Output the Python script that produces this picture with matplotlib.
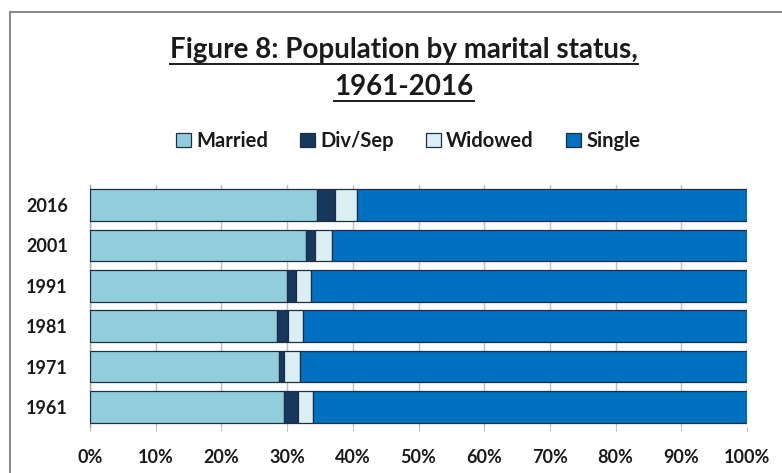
import matplotlib
matplotlib.use("Agg")
import matplotlib.pyplot as plt
from matplotlib.patches import Rectangle
from matplotlib.lines import Line2D
from matplotlib.ticker import PercentFormatter

years = ["1961", "1971", "1981", "1991", "2001", "2016"]
married = [29.5, 28.8, 28.4, 30.0, 32.9, 34.5]
divsep = [2.2, 0.7, 1.7, 1.4, 1.3, 2.8]
widowed = [2.3, 2.5, 2.3, 2.3, 2.7, 3.4]
single = [100 - m - d - w for m, d, w in zip(married, divsep, widowed)]

series = [("Married", married, "#92CDDC"),
          ("Div/Sep", divsep, "#17375E"),
          ("Widowed", widowed, "#DBEEF4"),
          ("Single", single, "#0070C0")]

plt.rcParams['font.family'] = ['Lato', 'DejaVu Sans']
plt.rcParams['font.weight'] = 'bold'

W, H = 782, 473
fig = plt.figure(figsize=(W / 100, H / 100), dpi=100)
ax = fig.add_axes([90 / W, 1 - 427 / H, (747 - 90) / W, (427 - 185) / H])

left = [0.0] * len(years)
handles = []
for name, vals, col in series:
    b = ax.barh(years, vals, left=left, height=0.78, color=col,
                edgecolor="#1B2F45", linewidth=0.9, label=name, zorder=3)
    handles.append(b)
    left = [l + v for l, v in zip(left, vals)]

ax.set_xlim(0, 100)
ax.set_ylim(-0.5, len(years) - 0.5)
ax.xaxis.set_major_locator(matplotlib.ticker.MultipleLocator(10))
ax.xaxis.set_major_formatter(PercentFormatter(decimals=0))
ax.grid(axis="x", color="#BFBFBF", linewidth=1.0, zorder=0)
for s in ["top", "right", "bottom"]:
    ax.spines[s].set_visible(False)
ax.spines["left"].set_color("#A6A6A6")
ax.spines["left"].set_linewidth(1.0)
ax.tick_params(axis="x", length=3, color="#BFBFBF", pad=13, labelsize=13)
ax.tick_params(axis="y", length=0, pad=16, labelsize=13)
for lab in ax.get_xticklabels() + ax.get_yticklabels():
    lab.set_fontweight("bold")
    lab.set_color("#1a1a1a")

leg = fig.legend(handles=handles, loc="center", bbox_to_anchor=(408 / W, 1 - 141 / H),
                 ncol=4, frameon=False, handlelength=0.75,
                 handleheight=0.75, handletextpad=0.25, columnspacing=1.6,
                 prop={'weight': 'bold', 'size': 14.5})
for t in leg.get_texts():
    t.set_color("#1a1a1a")

t1 = fig.text(404 / W, 1 - 50 / H, "Figure 8: Population by marital status,",
              ha="center", va="center", fontsize=20, fontweight="bold", color="#1a1a1a")
t2 = fig.text(404 / W, 1 - 87 / H, "1961-2016",
              ha="center", va="center", fontsize=20, fontweight="bold", color="#1a1a1a")

# frame around chart
fig.add_artist(Rectangle((10 / W, -0.1), 1.2, 1 - 12 / H + 0.1, transform=fig.transFigure,
                         fill=False, edgecolor="#8C8C8C", linewidth=1.5))

# underline the title
fig.canvas.draw()
r = fig.canvas.get_renderer()
for t in (t1, t2):
    bb = t.get_window_extent(renderer=r)
    y = bb.y0 - 1
    fig.add_artist(Line2D([bb.x0 / W, bb.x1 / W], [y / H, y / H],
                          transform=fig.transFigure, color="#1a1a1a", linewidth=1.4))

fig.savefig("out.png", dpi=100)
